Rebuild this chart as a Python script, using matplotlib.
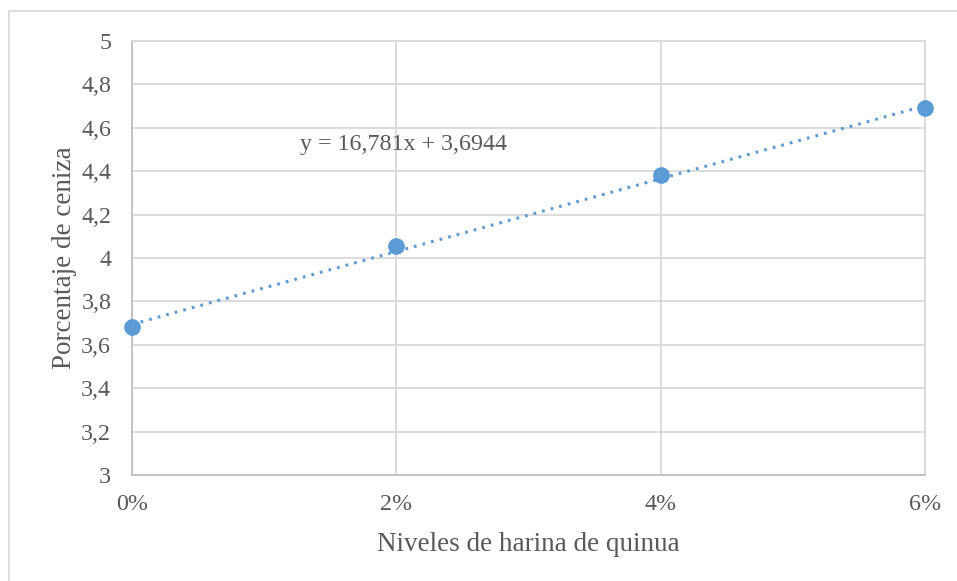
import numpy as np
import matplotlib.pyplot as plt
from matplotlib.patches import Rectangle
from matplotlib.ticker import FuncFormatter

# niveles de harina de quinua (fraccion) y porcentaje de ceniza
niveles = [0.00, 0.02, 0.04, 0.06]
ceniza = [3.68, 4.055, 4.382, 4.69]
pendiente = 16.781
intercepto = 3.6944
ecuacion = "y = 16,781x + 3,6944"

plt.rcParams['font.family'] = ['Liberation Serif', 'DejaVu Serif']
gris = '#595959'

fig = plt.figure(figsize=(9.57, 5.81), dpi=100)
fig.patches.append(Rectangle((9/957, -0.1), 1.2, 1 - 11/581 + 0.1, transform=fig.transFigure,
                             fill=False, edgecolor='#d9d9d9', linewidth=1.2))
ax = fig.add_axes([132/957, 1 - 475/581, 793/957, 434/581])

xl = np.array([0.0, 0.06])
ax.plot(xl, pendiente * xl + intercepto, linestyle=(0, (0.9, 2.0)), color='#5b9bd5',
        linewidth=2.2, zorder=2)
ax.plot(niveles, ceniza, 'o', color='#5b9bd5', markersize=11, zorder=3, clip_on=False)

ax.set_xlim(0, 0.06)
ax.set_ylim(3, 5)
ax.set_xticks(niveles)
ax.set_yticks(np.arange(3, 5.01, 0.2))
ax.xaxis.set_major_formatter(FuncFormatter(lambda v, p: f"{v*100:.0f}%"))
ax.yaxis.set_major_formatter(FuncFormatter(lambda v, p: f"{v:.1f}".replace('.', ',').replace(',0', '')))
ax.grid(True, color='#d9d9d9', linewidth=1.3)
ax.set_axisbelow(True)
for s in ax.spines.values():
    s.set_color('#d9d9d9')
    s.set_linewidth(1.3)
ax.spines['left'].set_color('#bfbfbf')
ax.spines['bottom'].set_color('#bfbfbf')
ax.tick_params(length=0, labelsize=17.25, colors=gris, pad=14)
ax.tick_params(axis='y', pad=15)

ax.set_xlabel("Niveles de harina de quinua", fontsize=19.5, color=gris, labelpad=12)
ax.set_ylabel("Porcentaje de ceniza", fontsize=19.5, color=gris, labelpad=3)
ax.text(0.0127, 4.525, ecuacion, fontsize=17.25, color=gris, va='center')

plt.savefig("out.png", dpi=100)
